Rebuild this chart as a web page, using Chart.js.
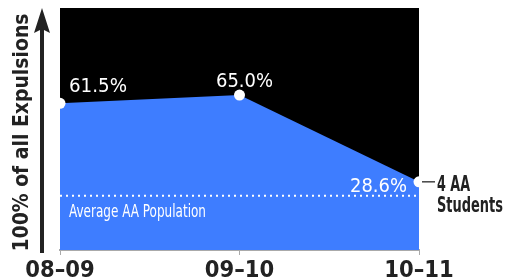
<!DOCTYPE html>
<html>
<head>
<meta charset="utf-8">
<script src="https://cdn.jsdelivr.net/npm/chart.js@4"></script>
<style>
  html, body { margin: 0; padding: 0; background: #fff; }
  canvas { display: block; }
</style>
</head>
<body>
<canvas id="expulsionChart" width="506" height="279"></canvas>
<script>
// values
var years = ["08–09", "09–10", "10–11"];
var aaShare = [61.5, 65.0, 28.6];
var avgPopulation = [22.8, 22.8, 22.8];
var yMin = 0;
var yMax = 101.5;
var axisTitle = "100% of all Expulsions";
var avgLabel = "Average AA Population";
var noteLines = ["4 AA", "Students"];

var BLUE = "rgb(62, 125, 255)";
var INK = "#222";
var NARROW = "'Liberation Sans Narrow', 'DejaVu Sans Condensed', sans-serif";

// draw text squeezed to a given width (the original type is condensed)
function fitText(ctx, text, x, y, font, width, align) {
    ctx.save();
    ctx.font = font;
    var w = ctx.measureText(text).width;
    ctx.translate(x, y);
    ctx.scale(width / w, 1);
    ctx.textAlign = align;
    ctx.textBaseline = "alphabetic";
    ctx.fillText(text, 0, 0);
    ctx.restore();
}

var decorPlugin = {
    id: "decor",
    beforeDraw: function(chart) {
        var ctx = chart.ctx, a = chart.chartArea;
        ctx.save();
        ctx.fillStyle = "#000";
        ctx.fillRect(a.left, a.top, a.right - a.left, a.bottom - a.top);
        ctx.restore();
    },
    afterDraw: function(chart) {
        var ctx = chart.ctx, a = chart.chartArea;
        var pts = chart.getDatasetMeta(1).data;
        var avgPts = chart.getDatasetMeta(0).data;

        // value labels
        ctx.fillStyle = "#fff";
        var f = "20px " + NARROW;
        fitText(ctx, aaShare[0].toFixed(1) + "%", pts[0].x + 9, pts[0].y - 11, f, 58, "left");
        fitText(ctx, aaShare[1].toFixed(1) + "%", pts[1].x + 5, pts[1].y - 8, f, 57, "center");
        fitText(ctx, aaShare[2].toFixed(1) + "%", pts[2].x - 12, pts[2].y + 10, f, 57, "right");

        // average label
        fitText(ctx, avgLabel, a.left + 9, avgPts[0].y + 21, "18px " + NARROW, 137, "left");

        // note next to the last point
        var p = pts[2];
        ctx.save();
        ctx.strokeStyle = "#444";
        ctx.lineWidth = 1.5;
        ctx.beginPath();
        ctx.moveTo(p.x + 3, p.y);
        ctx.lineTo(p.x + 16, p.y);
        ctx.stroke();
        ctx.restore();
        ctx.fillStyle = INK;
        var bf = "bold 21px " + NARROW;
        fitText(ctx, noteLines[0], p.x + 18, p.y + 9, bf, 33, "left");
        fitText(ctx, noteLines[1], p.x + 18, p.y + 30, bf, 66, "left");

        // y axis arrow + title
        ctx.save();
        ctx.strokeStyle = INK;
        ctx.fillStyle = INK;
        ctx.lineWidth = 4;
        ctx.beginPath();
        ctx.moveTo(42, a.bottom + 3);
        ctx.lineTo(42, 28);
        ctx.stroke();
        ctx.beginPath();
        ctx.moveTo(42, 8);
        ctx.lineTo(50, 33);
        ctx.lineTo(42, 29);
        ctx.lineTo(34, 33);
        ctx.closePath();
        ctx.fill();
        ctx.translate(28, 132.5);
        ctx.rotate(-Math.PI / 2);
        fitText(ctx, axisTitle, 0, 0, "bold 22px " + NARROW, 238, "center");
        ctx.restore();
    }
};

document.addEventListener("DOMContentLoaded", function() {
    var ctx = document.getElementById("expulsionChart").getContext("2d");
    new Chart(ctx, {
        type: "line",
        data: {
            labels: years,
            datasets: [{
                label: "Average AA Population",
                data: avgPopulation,
                borderColor: "#fff",
                borderWidth: 2,
                borderDash: [2, 4],
                pointRadius: 0,
                fill: false,
                order: 0
            }, {
                label: "AA share of expulsions",
                data: aaShare,
                fill: "origin",
                backgroundColor: BLUE,
                borderColor: BLUE,
                borderWidth: 0,
                pointRadius: 5.5,
                pointBackgroundColor: "#fff",
                pointBorderWidth: 0,
                tension: 0,
                clip: false,
                order: 1
            }]
        },
        options: {
            responsive: false,
            animation: false,
            layout: { padding: { left: 60, right: 87, top: 8, bottom: 0 } },
            plugins: { legend: { display: false }, tooltip: { enabled: false } },
            scales: {
                x: {
                    offset: false,
                    grid: { drawOnChartArea: false, tickLength: 5, color: "#aaa" },
                    border: { color: "#aaa", width: 2 },
                    ticks: {
                        color: INK,
                        padding: 2,
                        maxRotation: 0,
                        autoSkip: false,
                        font: { family: "'DejaVu Sans Condensed', sans-serif", weight: "bold", size: 23.5 }
                    },
                    afterFit: function(scale) { scale.height = 29; }
                },
                y: { display: false, min: yMin, max: yMax }
            }
        },
        plugins: [decorPlugin]
    });
});
</script>
</body>
</html>
